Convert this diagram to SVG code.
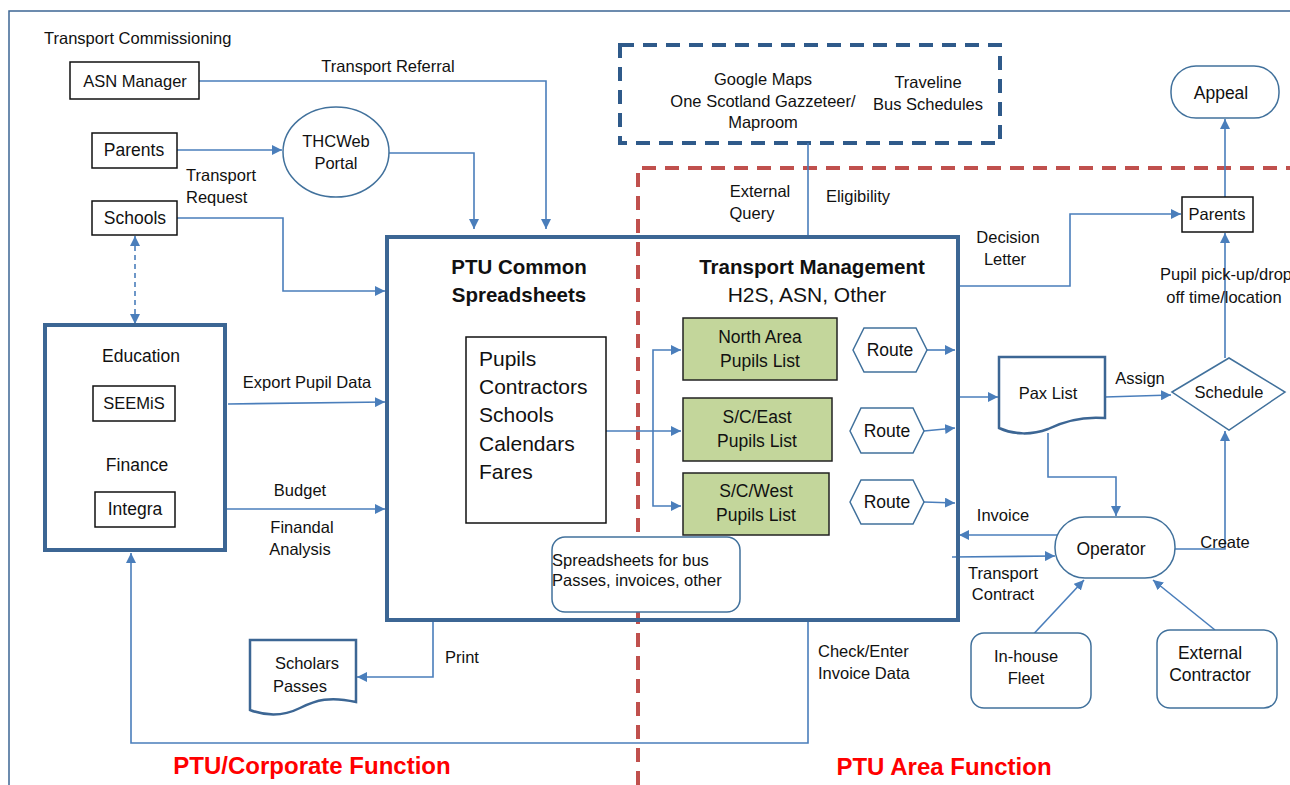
<svg xmlns="http://www.w3.org/2000/svg" width="1290" height="785" viewBox="0 0 1290 785">
<defs>
<marker id="ah" viewBox="0 0 10 10" refX="10" refY="5" markerWidth="10" markerHeight="10" markerUnits="userSpaceOnUse" orient="auto-start-reverse">
<path d="M0,0 L10,5 L0,10 Z" fill="#4A7EBB"/>
</marker>
<style>
text{font-family:"Liberation Sans",Arial,sans-serif;font-size:16.5px;fill:#111;text-anchor:middle}
.l{text-anchor:start}
.m{font-size:17.5px}
.big{font-size:21px}
.b{font-weight:bold;font-size:20.5px}
.red{fill:#FF0000;font-weight:bold;font-size:24px}
.box{fill:#fff;stroke:#111;stroke-width:1.5}
.thick{fill:none;stroke:#3C6694;stroke-width:4}
.soft{fill:#fff;stroke:#41719C;stroke-width:1.5}
.green{fill:#C3D69B;stroke:#222;stroke-width:1.5}
.c{fill:none;stroke:#4A7EBB;stroke-width:1.6}
.a{marker-end:url(#ah)}
</style>
</defs>
<rect width="1290" height="785" fill="#fff"/>
<path d="M9,785 V11 H1290" fill="none" stroke="#3C6694" stroke-width="1.5"/>

<g id="regions">
<rect x="620" y="45" width="380" height="98" fill="none" stroke="#2F5A8A" stroke-width="4" stroke-dasharray="14,9"/>
<path d="M638,785 V168 H1290" fill="none" stroke="#C0504D" stroke-width="4" stroke-dasharray="14,9"/>
<text class="l" x="44" y="44">Transport Commissioning</text>
<text class="red" x="312" y="774">PTU/Corporate Function</text>
<text class="red" x="944" y="775">PTU Area Function</text>
</g>

<g id="external-sources">
<text x="763" y="85">Google Maps</text>
<text x="763" y="107">One Scotland Gazzeteer/</text>
<text x="763" y="128">Maproom</text>
<text x="928" y="88">Traveline</text>
<text x="928" y="110">Bus Schedules</text>
</g>

<g id="connectors">
<path class="c a" d="M199,81 H546 V229"/>
<path class="c a" d="M177,150 H282"/>
<path class="c a" d="M389,153 H474 V229"/>
<path class="c a" d="M177,218 H283 V291 H385"/>
<path class="c" d="M135,246 V314" stroke-dasharray="5,4"/>
<path class="c a" d="M135,246 V236"/>
<path class="c a" d="M135,314 V324"/>
<path class="c a" d="M228,404 L385,402"/>
<path class="c a" d="M225,509 H385"/>
<path class="c a" d="M808,620 V743 H131 V553"/>
<path class="c a" d="M433,620 V677 H357"/>
<path class="c a" d="M606,431 H681"/>
<path class="c a" d="M653,431 V350 H681"/>
<path class="c a" d="M653,431 V506 H681"/>
<path class="c a" d="M927,350 H955"/>
<path class="c a" d="M924,431 L955,428"/>
<path class="c a" d="M924,502 L955,503"/>
<path class="c" d="M808,143 V237"/>
<path class="c a" d="M958,286 H1070 V214 H1181"/>
<path class="c a" d="M1225,197 V119"/>
<path class="c a" d="M1225,358 V233"/>
<path class="c a" d="M958,397 H998"/>
<path class="c a" d="M1105,397 L1171,395"/>
<path class="c a" d="M1048,433 V477 H1116 V516"/>
<path class="c a" d="M1062,535 H959"/>
<path class="c a" d="M952,557 L1055,556"/>
<path class="c a" d="M1175,549 H1225 V431"/>
<path class="c a" d="M1028,640 L1084,580"/>
<path class="c a" d="M1215,630 L1153,580"/>
<text x="388" y="72">Transport Referral</text>
<text class="l" x="186" y="181">Transport</text>
<text class="l" x="186" y="203">Request</text>
<text x="307" y="388">Export Pupil Data</text>
<text x="300" y="496">Budget</text>
<text x="302" y="533">Finandal</text>
<text x="300" y="555">Analysis</text>
<text class="l" x="445" y="663">Print</text>
<text class="l" x="818" y="657">Check/Enter</text>
<text class="l" x="818" y="679">Invoice Data</text>
<text x="760" y="197">External</text>
<text x="752" y="219">Query</text>
<text x="858" y="202">Eligibility</text>
<text x="1008" y="243">Decision</text>
<text x="1005" y="265">Letter</text>
<text x="1226" y="280">Pupil pick-up/drop</text>
<text x="1224" y="303">off time/location</text>
<text x="1140" y="384">Assign</text>
<text x="1003" y="521">Invoice</text>
<text x="1003" y="579">Transport</text>
<text x="1003" y="600">Contract</text>
<text x="1225" y="548">Create</text>
</g>

<g id="asn-manager"><rect class="box" x="70" y="62" width="129" height="37"/><text x="135" y="87">ASN Manager</text></g>
<g id="parents-left"><rect class="box" x="92" y="133" width="85" height="35"/><text class="m" x="134" y="156">Parents</text></g>
<g id="thc-web-portal"><ellipse class="soft" cx="336" cy="152" rx="53" ry="45"/><text x="336" y="147">THCWeb</text><text x="336" y="169">Portal</text></g>
<g id="schools"><rect class="box" x="92" y="201" width="85" height="34"/><text class="m" x="135" y="224">Schools</text></g>

<g id="education-finance">
<rect class="thick" x="45" y="325" width="180" height="225" fill="#fff"/>
<text class="m" x="141" y="362">Education</text>
<rect class="box" x="93" y="386" width="82" height="35"/><text x="134" y="409">SEEMiS</text>
<text class="m" x="137" y="471">Finance</text>
<rect class="box" x="95" y="492" width="80" height="35"/><text class="m" x="135" y="515">Integra</text>
</g>

<g id="ptu-main">
<rect class="thick" x="387" y="237" width="571" height="383"/>
<text class="b" x="519" y="274">PTU Common</text>
<text class="b" x="519" y="302">Spreadsheets</text>
<text class="b" x="812" y="274">Transport Management</text>
<text class="big" x="807" y="302">H2S, ASN, Other</text>
</g>

<g id="common-lists">
<rect class="box" x="466" y="337" width="140" height="186"/>
<text class="l big" x="479" y="366">Pupils</text>
<text class="l big" x="479" y="394">Contractors</text>
<text class="l big" x="479" y="422">Schools</text>
<text class="l big" x="479" y="451">Calendars</text>
<text class="l big" x="479" y="479">Fares</text>
</g>

<g id="north-area"><rect class="green" x="683" y="318" width="154" height="62"/><text class="m" x="760" y="343">North Area</text><text class="m" x="760" y="367">Pupils List</text></g>
<g id="east-area"><rect class="green" x="683" y="398" width="149" height="63"/><text class="m" x="757" y="423">S/C/East</text><text class="m" x="757" y="447">Pupils List</text></g>
<g id="west-area"><rect class="green" x="683" y="473" width="146" height="62"/><text class="m" x="756" y="497">S/C/West</text><text class="m" x="756" y="521">Pupils List</text></g>

<g id="route-1"><path class="soft" d="M853,350 L864,328 H916 L927,350 L916,372 H864 Z"/><text class="m" x="890" y="356">Route</text></g>
<g id="route-2"><path class="soft" d="M850,431 L861,408 H913 L924,431 L913,453 H861 Z"/><text class="m" x="887" y="437">Route</text></g>
<g id="route-3"><path class="soft" d="M850,502 L861,480 H913 L924,502 L913,524 H861 Z"/><text class="m" x="887" y="508">Route</text></g>

<g id="spreadsheets-other"><rect class="soft" x="552" y="537" width="188" height="75" rx="13" fill="none"/><text class="l" x="552" y="566">Spreadsheets for bus</text><text class="l" x="552" y="586">Passes, invoices, other</text></g>

<g id="scholars-passes"><path d="M250,640 H356 V702 C330,696 316,700 300,708 C284,716 266,716 250,710 Z" fill="#fff" stroke="#3C6694" stroke-width="2.5"/><text x="307" y="669">Scholars</text><text x="300" y="692">Passes</text></g>

<g id="parents-right"><rect class="box" x="1182" y="197" width="71" height="35"/><text x="1217" y="220">Parents</text></g>
<g id="appeal"><rect class="soft" x="1171" y="66" width="108" height="52" rx="25"/><text class="m" x="1221" y="99">Appeal</text></g>
<g id="pax-list"><path d="M999,357 H1105 V418 C1080,416 1062,422 1048,429 C1032,435 1014,435 999,428 Z" fill="#fff" stroke="#3C6694" stroke-width="2.5"/><text x="1048" y="399">Pax List</text></g>
<g id="schedule"><path class="soft" d="M1172,392 L1229,358 L1285,392 L1229,430 Z"/><text x="1229" y="398">Schedule</text></g>
<g id="operator"><rect class="soft" x="1055" y="517" width="120" height="61" rx="30"/><text class="m" x="1111" y="555">Operator</text></g>
<g id="in-house-fleet"><rect class="soft" x="971" y="633" width="120" height="75" rx="13"/><text x="1026" y="662">In-house</text><text x="1026" y="684">Fleet</text></g>
<g id="external-contractor"><rect class="soft" x="1157" y="630" width="120" height="78" rx="13"/><text class="m" x="1210" y="659">External</text><text class="m" x="1210" y="681">Contractor</text></g>
</svg>
